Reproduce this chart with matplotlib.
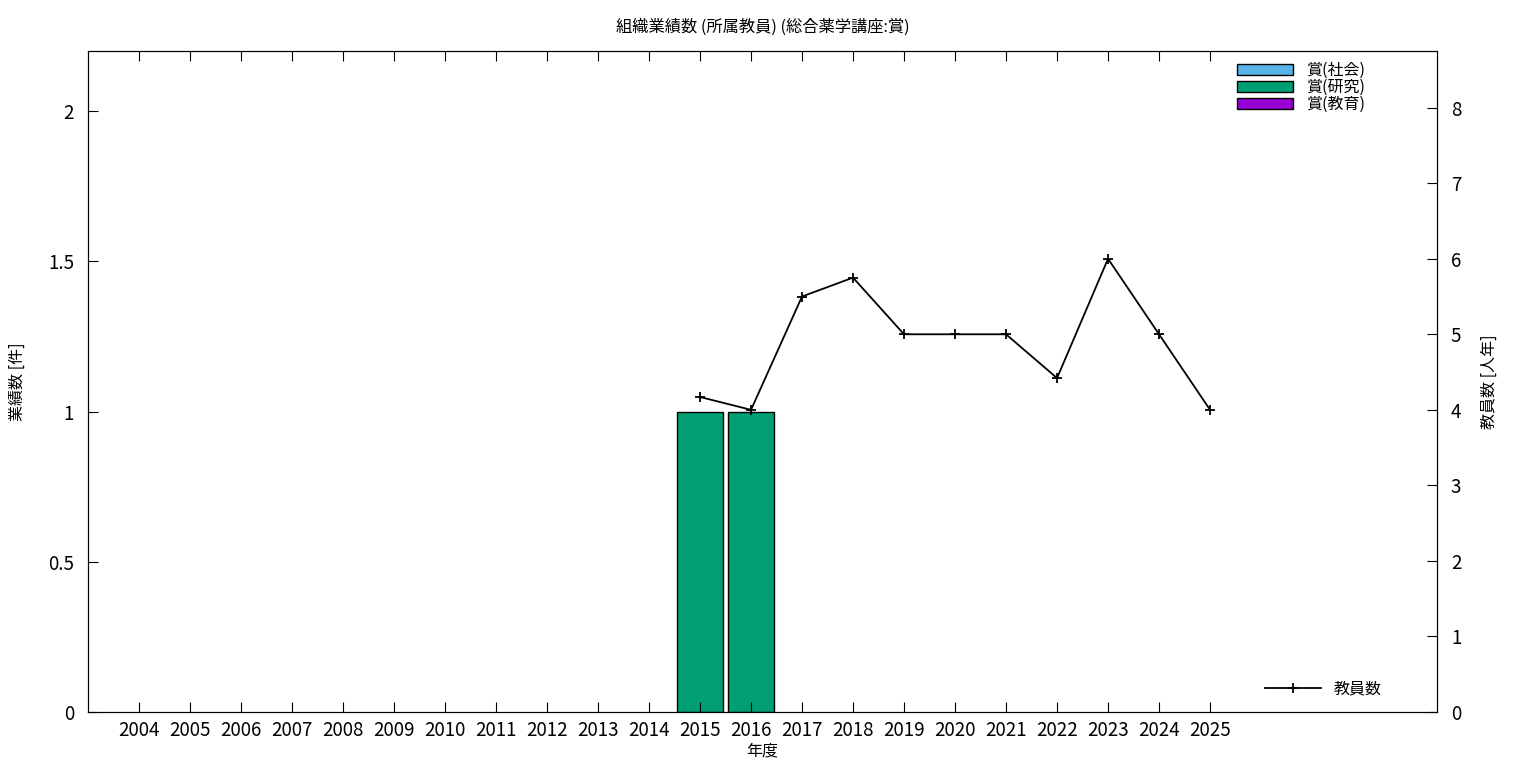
import numpy as np
import matplotlib.pyplot as plt
from matplotlib.patches import Patch
from matplotlib.lines import Line2D

plt.rcParams['font.family'] = ['Noto Sans CJK JP', 'DejaVu Sans']

years = [str(y) for y in range(2004, 2026)]
award_social = [0] * 22
award_research = [0] * 11 + [1, 1] + [0] * 9
award_education = [0] * 22
staff_years = ['2015', '2016', '2017', '2018', '2019', '2020', '2021', '2022', '2023', '2024', '2025']
staff = [4.17, 4.0, 5.5, 5.75, 5.0, 5.0, 5.0, 4.42, 6.0, 5.0, 4.0]

c_social = '#56b4e9'
c_research = '#009e73'
c_edu = '#9400d3'

fig = plt.figure(figsize=(15.36, 7.68), dpi=100)
ax = fig.add_axes([88 / 1536, 1 - 712 / 768, (1437 - 88) / 1536, (712 - 51) / 768])

x = np.arange(len(years))
w = 0.9
ax.bar(x, award_social, w, color=c_social, edgecolor='black', linewidth=1)
ax.bar(x, award_research, w, bottom=award_social, color=c_research, edgecolor='black', linewidth=1)
bottom2 = np.array(award_social) + np.array(award_research)
ax.bar(x, award_education, w, bottom=bottom2, color=c_edu, edgecolor='black', linewidth=1)
# hide zero-height bars' edges
for p in ax.patches:
    if p.get_height() == 0:
        p.set_visible(False)

ax.set_xlim(-1, 25.45)
ax.set_ylim(0, 2.2)
ax.set_xticks(x)
ax.set_xticklabels(years)
ax.set_yticks([0, 0.5, 1, 1.5, 2])
ax.set_yticklabels(['0', '0.5', '1', '1.5', '2'])
ax.tick_params(axis='x', direction='in', top=True, length=7, labelsize=13.5, pad=6)
ax.tick_params(axis='y', direction='in', length=7, labelsize=13.5, pad=10)
ax.set_xlabel('年度', fontsize=11.5, labelpad=1)
ax.set_ylabel('業績数 [件]', fontsize=11.5, labelpad=16)
ax.set_title('組織業績数 (所属教員) (総合薬学講座:賞)', fontsize=11.7, pad=14)

ax2 = ax.twinx()
sx = [years.index(y) for y in staff_years]
ax2.plot(sx, staff, color='black', linewidth=1.3, marker='+', markersize=7, markeredgewidth=1.3)
ax2.set_ylim(0, 8.75)
ax2.set_yticks(range(0, 9))
ax2.tick_params(axis='y', direction='in', length=7, labelsize=13.5, pad=10)
ax2.set_ylabel('教員数 [人年]', fontsize=11.5, labelpad=14)

handles = [Patch(facecolor=c_social, edgecolor='black', label='賞(社会)'),
           Patch(facecolor=c_research, edgecolor='black', label='賞(研究)'),
           Patch(facecolor=c_edu, edgecolor='black', label='賞(教育)')]
leg1 = ax2.legend(handles=handles, loc='upper right', frameon=False, fontsize=11.5,
                  handlelength=3.5, handleheight=0.6, labelspacing=0.0,
                  handletextpad=0.8, borderaxespad=0.3, bbox_to_anchor=(0.955, 1.0))
ax2.add_artist(leg1)
ax2.legend(handles=[Line2D([0], [0], color='black', lw=1.3, marker='+', markersize=7, markeredgewidth=1.3)],
           labels=['教員数'], loc='lower right', frameon=False, fontsize=11.5,
           handlelength=3.5, handletextpad=0.8, bbox_to_anchor=(0.97, 0.0))

plt.savefig('out.png', dpi=100)
plt.close()
